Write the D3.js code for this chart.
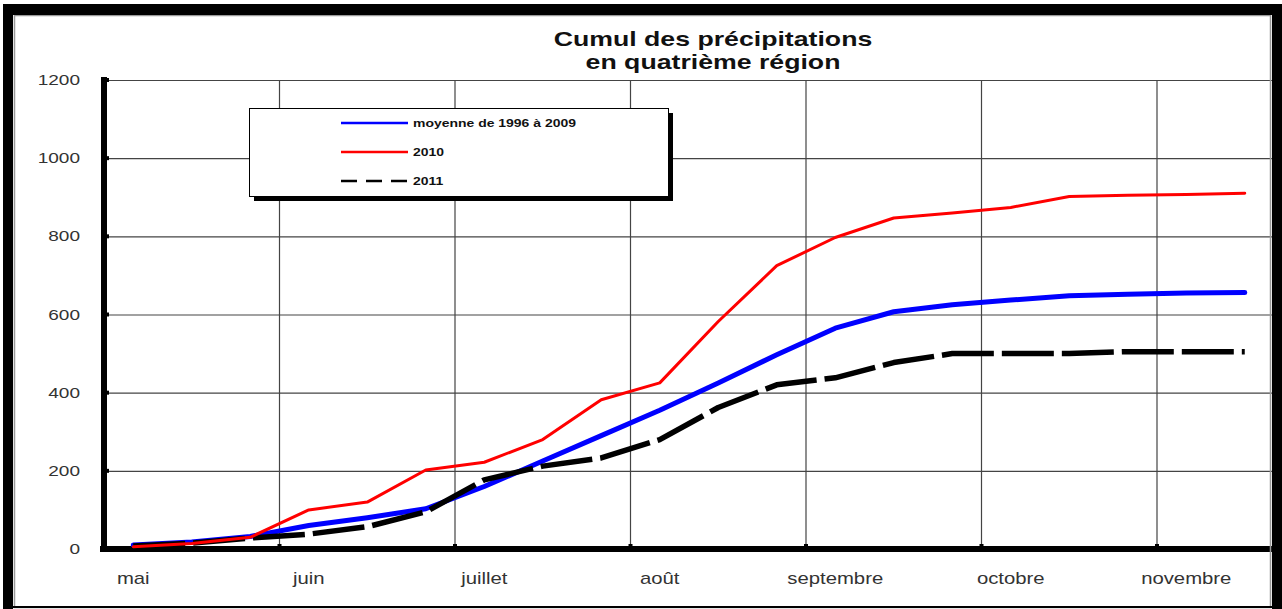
<!DOCTYPE html>
<meta charset="utf-8">
<style>
    body { margin: 0; background: #fff; }
    svg { display: block; font-family: "Liberation Sans", Arial, sans-serif; }
    .grid line { stroke: #444; stroke-width: 1.2px; }
    .grid path { display: none; }
    .lbl text { fill: #333; }
</style>
<svg width="1282" height="609"></svg>
<script src="https://d3js.org/d3.v7.min.js"></script>
<script>

    // décades (1re, 2e, 3e décade de chaque mois)
    var decades = ["mai 1", "mai 2", "mai 3",
        "juin 1", "juin 2", "juin 3",
        "juillet 1", "juillet 2", "juillet 3",
        "août 1", "août 2", "août 3",
        "septembre 1", "septembre 2", "septembre 3",
        "octobre 1", "octobre 2", "octobre 3",
        "novembre 1", "novembre 2"];

    var months = ["mai", "juin", "juillet", "août", "septembre", "octobre", "novembre"];

    var moyenne = [10, 18, 32, 60, 80, 103, 160, 225, 290, 355, 425, 497, 565, 607, 625, 637, 648, 652, 655, 656];
    var pluie2010 = [6, 14, 30, 100, 120, 202, 222, 280, 382, 425, 582, 725, 797, 847, 860, 874, 902, 905, 907, 910];
    var pluie2011 = [8, 15, 28, 38, 57, 95, 177, 212, 233, 280, 362, 420, 438, 477, 500, 500, 500, 505, 505, 505];

    var yTicks = [0, 200, 400, 600, 800, 1000, 1200];

    var series = [
        {name: "moyenne de 1996 à 2009", values: moyenne, color: "#0000ff", width: 5, dash: null},
        {name: "2011", values: pluie2011, color: "#000", width: 5.5, dash: "52,8"},
        {name: "2010", values: pluie2010, color: "#ff0000", width: 3, dash: null}
    ];
    var legendOrder = [series[0], series[2], series[1]];

    var sx = 1.27; // the picture is stretched horizontally

    var svg = d3.select("svg"),
        x0 = 104, x1 = 1274, yTop = 80, yBot = 549;

    var x = d3.scaleBand().domain(decades).range([x0, x1]);
    var y = d3.scaleLinear().domain([0, 1200]).range([yBot, yTop]);

    function mid(d) { return x(d) + x.bandwidth() / 2; }

    svg.append("rect").attr("x", 0).attr("y", 0).attr("width", 1282).attr("height", 609).attr("fill", "#fff");

    // horizontal grid
    svg.append("g").attr("class", "grid")
        .attr("transform", "translate(" + x0 + ",0)")
        .call(d3.axisLeft(y).tickValues(yTicks.slice(1)).tickSize(-(x1 - x0)).tickFormat(""));
    // vertical grid at start of each month
    svg.append("g").attr("class", "grid")
        .selectAll("line")
        .data(months.slice(1))
        .enter().append("line")
        .attr("x1", function(m) { return x(m + " 1"); })
        .attr("x2", function(m) { return x(m + " 1"); })
        .attr("y1", yTop)
        .attr("y2", yBot);

    // small tick marks on the axes
    svg.append("g").selectAll("rect")
        .data(yTicks.slice(1))
        .enter().append("rect")
        .attr("x", x0).attr("width", 5)
        .attr("y", function(d) { return y(d) - 2; }).attr("height", 4)
        .attr("fill", "#000");
    svg.append("g").selectAll("rect")
        .data(months.slice(1))
        .enter().append("rect")
        .attr("x", function(m) { return x(m + " 1") - 2; }).attr("width", 4)
        .attr("y", yBot - 5).attr("height", 5)
        .attr("fill", "#000");

    // axis lines
    svg.append("line").attr("x1", x0).attr("x2", x0).attr("y1", yTop - 3).attr("y2", yBot + 3)
        .attr("stroke", "#000").attr("stroke-width", 6);
    svg.append("line").attr("x1", x0 - 4).attr("x2", x1).attr("y1", yBot).attr("y2", yBot)
        .attr("stroke", "#000").attr("stroke-width", 6);

    // y labels
    svg.append("g").attr("class", "lbl")
        .selectAll("text")
        .data(yTicks)
        .enter().append("text")
        .attr("transform", function(d) { return "translate(80," + (y(d) + 5) + ") scale(" + sx + ",1)"; })
        .attr("text-anchor", "end")
        .attr("font-size", 15)
        .text(function(d) { return d; });

    // month labels
    svg.append("g").attr("class", "lbl")
        .selectAll("text")
        .data(months)
        .enter().append("text")
        .attr("transform", function(m) { return "translate(" + mid(m + " 1") + ",584) scale(" + sx + ",1)"; })
        .attr("text-anchor", "middle")
        .attr("font-size", 16)
        .text(function(m) { return m; });

    // lines
    var line = d3.line()
        .x(function(d, i) { return mid(decades[i]); })
        .y(function(d) { return y(d); });

    svg.append("g")
        .selectAll("path")
        .data(series)
        .enter().append("path")
        .attr("d", function(s) { return line(s.values); })
        .attr("fill", "none")
        .attr("stroke", function(s) { return s.color; })
        .attr("stroke-width", function(s) { return s.width; })
        .attr("stroke-dasharray", function(s) { return s.dash; })
        .attr("stroke-linejoin", "round")
        .attr("stroke-linecap", function(s) { return s.dash ? "butt" : "round"; });

    // title
    var title = svg.append("g").attr("font-weight", "bold").attr("font-size", 21).attr("fill", "#111");
    title.append("text").attr("transform", "translate(713,46) scale(" + sx + ",1)")
        .attr("text-anchor", "middle").text("Cumul des précipitations");
    title.append("text").attr("transform", "translate(713,69) scale(" + sx + ",1)")
        .attr("text-anchor", "middle").text("en quatrième région");

    // legend
    var legend = svg.append("g");
    legend.append("rect").attr("x", 254).attr("y", 113).attr("width", 419).attr("height", 88).attr("fill", "#000");
    legend.append("rect").attr("x", 249.5).attr("y", 108.5).attr("width", 419).attr("height", 88)
        .attr("fill", "#fff").attr("stroke", "#000").attr("stroke-width", 1);
    var item = legend.selectAll("g.item")
        .data(legendOrder)
        .enter().append("g")
        .attr("class", "item")
        .attr("transform", function(d, i) { return "translate(0," + (123 + i * 29) + ")"; });
    item.append("line")
        .attr("x1", 341).attr("x2", 408)
        .attr("stroke", function(s) { return s.color; })
        .attr("stroke-width", 2.5)
        .attr("stroke-dasharray", function(s) { return s.dash ? "16,9" : null; });
    item.append("text")
        .attr("transform", "translate(413,4) scale(" + sx + ",1)")
        .attr("font-size", 11).attr("font-weight", "bold").attr("fill", "#111")
        .text(function(s) { return s.name; });

    // black frame around the picture
    svg.append("rect").attr("x", 14.5).attr("y", 15.5).attr("width", 1256).attr("height", 592)
        .attr("fill", "none").attr("stroke", "#999").attr("stroke-width", 1.5);
    svg.append("rect").attr("x", 3).attr("y", 4).attr("width", 1279).attr("height", 11).attr("fill", "#000");
    svg.append("rect").attr("x", 3).attr("y", 4).attr("width", 10).attr("height", 605).attr("fill", "#000");
    svg.append("rect").attr("x", 1272).attr("y", 4).attr("width", 10).attr("height", 605).attr("fill", "#000");
    svg.append("rect").attr("x", 3).attr("y", 606).attr("width", 1279).attr("height", 2).attr("fill", "#000");

</script>
